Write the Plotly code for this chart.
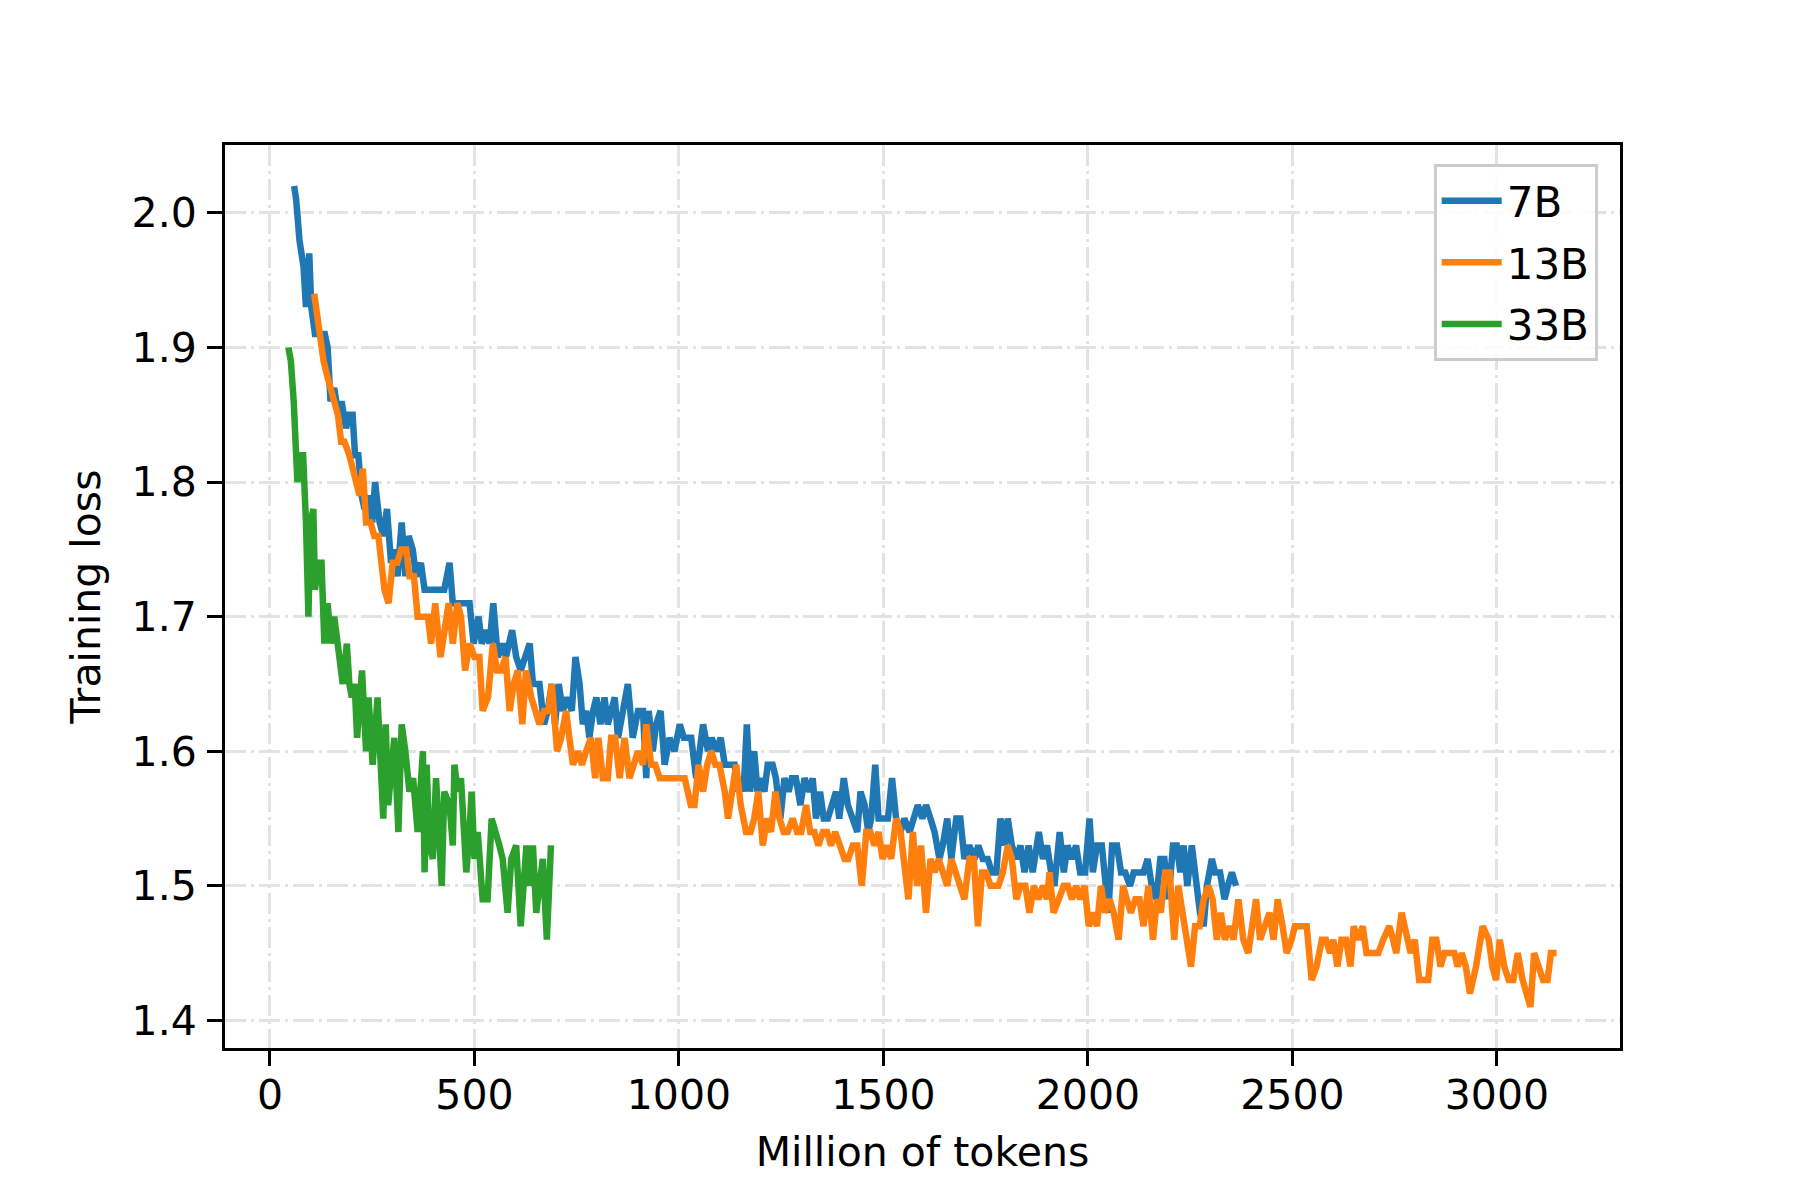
import plotly.graph_objects as go

# ---------------- data ----------------
series_names = ["7B", "13B", "33B"]
colors = ["#1f77b4", "#ff7f0e", "#2ca02c"]

x_7b = [59, 64, 72, 76, 82, 88, 92, 96, 101, 110, 121, 134, 141, 148, 157, 167, 175, 186, 194, 202,
        208, 216, 224, 231, 240, 250, 257, 268, 277, 286, 296, 304, 312, 322, 331, 339, 349, 357, 369, 378,
        390, 402, 414, 426, 439, 447, 459, 467, 488, 498, 510, 518, 529, 537, 546, 557, 569, 577, 592, 602,
        613, 635, 643, 659, 670, 679, 689, 697, 706, 716, 727, 738, 747, 757, 765, 773, 781, 790, 798, 808,
        818, 826, 834, 843, 851, 863, 875, 887, 900, 912, 920, 926, 936, 944, 955, 965, 977, 989, 1002, 1012,
        1030, 1042, 1059, 1071, 1080, 1091, 1102, 1112, 1124, 1136, 1144, 1152, 1158, 1166, 1174, 1184, 1192, 1200, 1209, 1217,
        1229, 1237, 1248, 1258, 1268, 1276, 1286, 1297, 1307, 1319, 1327, 1335, 1345, 1354, 1364, 1374, 1384, 1392, 1403, 1413,
        1425, 1436, 1444, 1454, 1463, 1470, 1480, 1488, 1498, 1511, 1521, 1531, 1542, 1551, 1564, 1574, 1584, 1595, 1604, 1615,
        1625, 1637, 1645, 1656, 1666, 1678, 1688, 1698, 1710, 1723, 1732, 1743, 1755, 1765, 1776, 1786, 1796, 1804, 1814, 1825,
        1835, 1845, 1855, 1865, 1880, 1890, 1900, 1910, 1918, 1931, 1941, 1950, 1961, 1971, 1981, 1993, 2004, 2012, 2022, 2034,
        2045, 2050, 2059, 2071, 2081, 2091, 2103, 2112, 2124, 2136, 2146, 2156, 2167, 2177, 2187, 2197, 2208, 2217, 2226, 2234,
        2243, 2254, 2266, 2274, 2283, 2291, 2303, 2311, 2323, 2334, 2342, 2352, 2362]
y_7b = [2.02, 2.01, 1.98, 1.97, 1.96, 1.93, 1.95, 1.97, 1.93, 1.91, 1.91, 1.91, 1.90, 1.86, 1.87, 1.85, 1.86, 1.84, 1.85, 1.85,
        1.82, 1.82, 1.79, 1.78, 1.79, 1.77, 1.80, 1.77, 1.76, 1.78, 1.74, 1.75, 1.73, 1.77, 1.73, 1.76, 1.75, 1.73, 1.74, 1.72,
        1.72, 1.72, 1.72, 1.72, 1.74, 1.71, 1.71, 1.71, 1.71, 1.68, 1.70, 1.68, 1.69, 1.68, 1.71, 1.67, 1.68, 1.67, 1.69, 1.67,
        1.66, 1.68, 1.65, 1.65, 1.62, 1.63, 1.65, 1.62, 1.65, 1.63, 1.64, 1.63, 1.67, 1.65, 1.62, 1.63, 1.61, 1.63, 1.64, 1.62,
        1.64, 1.62, 1.63, 1.64, 1.61, 1.63, 1.65, 1.61, 1.63, 1.63, 1.58, 1.63, 1.60, 1.62, 1.63, 1.59, 1.61, 1.60, 1.62, 1.61,
        1.61, 1.58, 1.62, 1.60, 1.61, 1.60, 1.61, 1.59, 1.59, 1.59, 1.57, 1.58, 1.57, 1.62, 1.57, 1.60, 1.57, 1.58, 1.57, 1.59,
        1.59, 1.58, 1.55, 1.58, 1.57, 1.58, 1.58, 1.56, 1.58, 1.57, 1.58, 1.55, 1.57, 1.55, 1.55, 1.56, 1.57, 1.55, 1.58, 1.56,
        1.55, 1.54, 1.57, 1.56, 1.54, 1.55, 1.59, 1.55, 1.55, 1.55, 1.58, 1.55, 1.54, 1.55, 1.54, 1.55, 1.56, 1.55, 1.56, 1.55,
        1.54, 1.52, 1.53, 1.55, 1.52, 1.55, 1.55, 1.52, 1.53, 1.52, 1.53, 1.52, 1.52, 1.51, 1.51, 1.55, 1.53, 1.55, 1.53, 1.52,
        1.53, 1.51, 1.53, 1.51, 1.54, 1.52, 1.53, 1.51, 1.50, 1.54, 1.51, 1.53, 1.52, 1.53, 1.51, 1.51, 1.55, 1.51, 1.53, 1.53,
        1.50, 1.48, 1.53, 1.53, 1.51, 1.51, 1.50, 1.51, 1.51, 1.51, 1.52, 1.50, 1.49, 1.52, 1.52, 1.49, 1.53, 1.53, 1.51, 1.53,
        1.50, 1.53, 1.50, 1.48, 1.47, 1.50, 1.52, 1.51, 1.51, 1.49, 1.50, 1.51, 1.50]

x_13b = [108, 117, 125, 131, 139, 149, 156, 166, 174, 182, 194, 202, 210, 219, 227, 235, 246, 255, 265, 271,
         280, 290, 300, 311, 321, 333, 341, 352, 361, 374, 386, 394, 404, 417, 427, 437, 447, 458, 467, 477,
         488, 500, 512, 520, 533, 545, 555, 565, 576, 586, 596, 606, 617, 626, 639, 648, 659, 670, 681, 689,
         702, 712, 724, 732, 741, 753, 763, 773, 785, 795, 803, 814, 826, 834, 844, 855, 867, 879, 890, 900,
         912, 920, 932, 942, 953, 970, 990, 1014, 1029, 1038, 1048, 1059, 1069, 1079, 1089, 1099, 1112, 1120, 1130, 1140,
         1151, 1164, 1175, 1184, 1194, 1205, 1215, 1225, 1236, 1246, 1256, 1266, 1278, 1289, 1299, 1311, 1321, 1331, 1341, 1352,
         1362, 1372, 1382, 1392, 1405, 1414, 1425, 1436, 1447, 1458, 1468, 1478, 1488, 1498, 1509, 1519, 1531, 1542, 1551, 1561,
         1572, 1582, 1592, 1604, 1615, 1625, 1635, 1645, 1656, 1666, 1678, 1688, 1698, 1710, 1721, 1731, 1741, 1751, 1762, 1772,
         1781, 1792, 1804, 1814, 1825, 1835, 1847, 1857, 1868, 1879, 1890, 1900, 1906, 1916, 1929, 1941, 1951, 1961, 1971, 1981,
         1992, 2002, 2012, 2022, 2032, 2042, 2053, 2063, 2075, 2086, 2095, 2105, 2116, 2126, 2136, 2148, 2159, 2169, 2178, 2189,
         2200, 2211, 2221, 2232, 2242, 2252, 2262, 2273, 2283, 2295, 2305, 2315, 2325, 2335, 2346, 2356, 2368, 2380, 2392, 2411,
         2421, 2433, 2444, 2454, 2464, 2476, 2486, 2498, 2506, 2535, 2547, 2559, 2572, 2582, 2592, 2600, 2610, 2620, 2631, 2642,
         2650, 2661, 2672, 2681, 2694, 2710, 2722, 2737, 2746, 2754, 2767, 2779, 2789, 2799, 2810, 2832, 2842, 2852, 2862, 2872,
         2883, 2896, 2904, 2914, 2924, 2934, 2949, 2965, 2980, 2989, 2998, 3007, 3018, 3029, 3040, 3051, 3063, 3073, 3082, 3091,
         3102, 3113, 3124, 3132, 3146]
y_13b = [1.94, 1.92, 1.90, 1.89, 1.88, 1.87, 1.86, 1.85, 1.83, 1.83, 1.82, 1.81, 1.80, 1.79, 1.81, 1.77, 1.77, 1.76, 1.76, 1.74,
         1.72, 1.71, 1.74, 1.74, 1.75, 1.75, 1.73, 1.73, 1.70, 1.70, 1.70, 1.68, 1.71, 1.67, 1.69, 1.71, 1.68, 1.71, 1.70, 1.66,
         1.68, 1.67, 1.67, 1.63, 1.64, 1.68, 1.66, 1.66, 1.67, 1.63, 1.65, 1.66, 1.62, 1.66, 1.64, 1.63, 1.62, 1.63, 1.63, 1.65,
         1.60, 1.61, 1.63, 1.61, 1.59, 1.60, 1.59, 1.60, 1.61, 1.58, 1.61, 1.58, 1.58, 1.61, 1.61, 1.58, 1.61, 1.58, 1.59, 1.60,
         1.59, 1.62, 1.59, 1.59, 1.58, 1.58, 1.58, 1.58, 1.56, 1.56, 1.59, 1.57, 1.59, 1.60, 1.59, 1.59, 1.57, 1.55, 1.57, 1.59,
         1.56, 1.54, 1.54, 1.55, 1.57, 1.53, 1.55, 1.54, 1.57, 1.55, 1.54, 1.54, 1.55, 1.54, 1.54, 1.56, 1.54, 1.54, 1.53, 1.54,
         1.54, 1.53, 1.54, 1.53, 1.52, 1.52, 1.53, 1.53, 1.50, 1.54, 1.54, 1.53, 1.54, 1.52, 1.53, 1.52, 1.55, 1.54, 1.52, 1.49,
         1.54, 1.50, 1.53, 1.48, 1.52, 1.51, 1.52, 1.51, 1.50, 1.52, 1.51, 1.50, 1.49, 1.52, 1.52, 1.47, 1.51, 1.51, 1.50, 1.50,
         1.50, 1.51, 1.53, 1.52, 1.49, 1.50, 1.50, 1.48, 1.50, 1.49, 1.50, 1.49, 1.51, 1.48, 1.49, 1.50, 1.50, 1.49, 1.50, 1.49,
         1.50, 1.47, 1.48, 1.47, 1.50, 1.48, 1.49, 1.48, 1.46, 1.50, 1.49, 1.48, 1.49, 1.49, 1.47, 1.50, 1.46, 1.49, 1.48, 1.51,
         1.51, 1.46, 1.50, 1.48, 1.46, 1.44, 1.47, 1.47, 1.49, 1.50, 1.49, 1.46, 1.48, 1.46, 1.47, 1.46, 1.49, 1.46, 1.45, 1.49,
         1.46, 1.47, 1.48, 1.46, 1.49, 1.47, 1.45, 1.46, 1.47, 1.47, 1.43, 1.44, 1.46, 1.46, 1.45, 1.46, 1.44, 1.46, 1.46, 1.44,
         1.47, 1.46, 1.47, 1.45, 1.45, 1.45, 1.46, 1.47, 1.46, 1.45, 1.48, 1.46, 1.45, 1.46, 1.43, 1.43, 1.46, 1.46, 1.44, 1.45,
         1.45, 1.45, 1.44, 1.45, 1.44, 1.42, 1.44, 1.47, 1.46, 1.44, 1.43, 1.46, 1.44, 1.43, 1.43, 1.45, 1.43, 1.42, 1.41, 1.45,
         1.44, 1.43, 1.43, 1.45, 1.45]

x_33b = [45, 51, 58, 64, 67, 76, 81, 88, 94, 99, 106, 110, 119, 126, 133, 141, 149, 157, 165, 178,
         188, 194, 200, 207, 213, 220, 225, 235, 241, 251, 263, 277, 283, 289, 304, 314, 322, 331, 341, 350,
         361, 374, 378, 383, 390, 398, 406, 420, 426, 439, 447, 451, 459, 467, 480, 488, 493, 500, 508, 520,
         532, 542, 553, 561, 569, 581, 590, 602, 613, 627, 634, 643, 651, 659, 667, 677, 687]
y_33b = [1.90, 1.89, 1.86, 1.81, 1.80, 1.82, 1.82, 1.77, 1.70, 1.77, 1.78, 1.72, 1.74, 1.74, 1.68, 1.71, 1.68, 1.70, 1.68, 1.65,
         1.68, 1.65, 1.64, 1.65, 1.61, 1.65, 1.66, 1.60, 1.64, 1.59, 1.64, 1.55, 1.62, 1.56, 1.61, 1.54, 1.62, 1.60, 1.57, 1.58,
         1.54, 1.60, 1.51, 1.59, 1.53, 1.52, 1.58, 1.50, 1.57, 1.56, 1.53, 1.59, 1.57, 1.58, 1.51, 1.54, 1.57, 1.52, 1.54, 1.49,
         1.49, 1.55, 1.54, 1.53, 1.52, 1.48, 1.52, 1.53, 1.47, 1.53, 1.50, 1.53, 1.48, 1.50, 1.52, 1.46, 1.53]

x_ticks = [0, 500, 1000, 1500, 2000, 2500, 3000]
y_ticks = [1.4, 1.5, 1.6, 1.7, 1.8, 1.9, 2.0]
x_title = "Million of tokens"
y_title = "Training loss"

# ---------------- figure ----------------
FONT = "DejaVu Sans"
FS = 41
fig = go.Figure()
for i, (name, xs, ys) in enumerate(zip(series_names, [x_7b, x_13b, x_33b], [y_7b, y_13b, y_33b])):
    fig.add_trace(go.Scatter(
        x=xs, y=ys, mode="lines", name=name, legendgroup=name,
        line=dict(color=colors[i], width=6.5),
    ))

grid_dash = "21px,5px,3px,5px"
axis_common = dict(
    showline=True, linecolor="black", linewidth=3, mirror=True,
    ticks="outside", ticklen=15, tickwidth=3, tickcolor="black",
    showgrid=True, gridcolor="#e3e3e3", gridwidth=3, griddash=grid_dash,
    zeroline=False, tickfont=dict(family=FONT, size=FS, color="black"),
)

fig.update_xaxes(
    range=[-110, 3301], tickvals=x_ticks, ticktext=[str(v) for v in x_ticks],
    ticklabelstandoff=-6,
    title=dict(text=x_title, font=dict(family=FONT, size=FS, color="black"), standoff=20),
    **axis_common,
)
fig.update_yaxes(
    range=[1.3795, 2.0505], tickvals=y_ticks, ticktext=[f"{v:.1f}" for v in y_ticks],
    ticklabelstandoff=2,
    title=dict(text=y_title, font=dict(family=FONT, size=FS, color="black"), standoff=19),
    **axis_common,
)

fig.update_layout(
    width=1800, height=1200,
    margin=dict(l=217, r=188, t=137, b=160, autoexpand=False),
    paper_bgcolor="white", plot_bgcolor="white",
    font=dict(family=FONT, size=FS, color="black"),
    showlegend=True,
    legend=dict(
        x=0.984, y=0.979, xanchor="right", yanchor="top",
        bgcolor="rgba(255,255,255,0.85)", bordercolor="#cccccc", borderwidth=3,
        font=dict(family=FONT, size=42, color="black"),
        tracegroupgap=4, itemwidth=60,
    ),
)

fig.write_html("out.html")
